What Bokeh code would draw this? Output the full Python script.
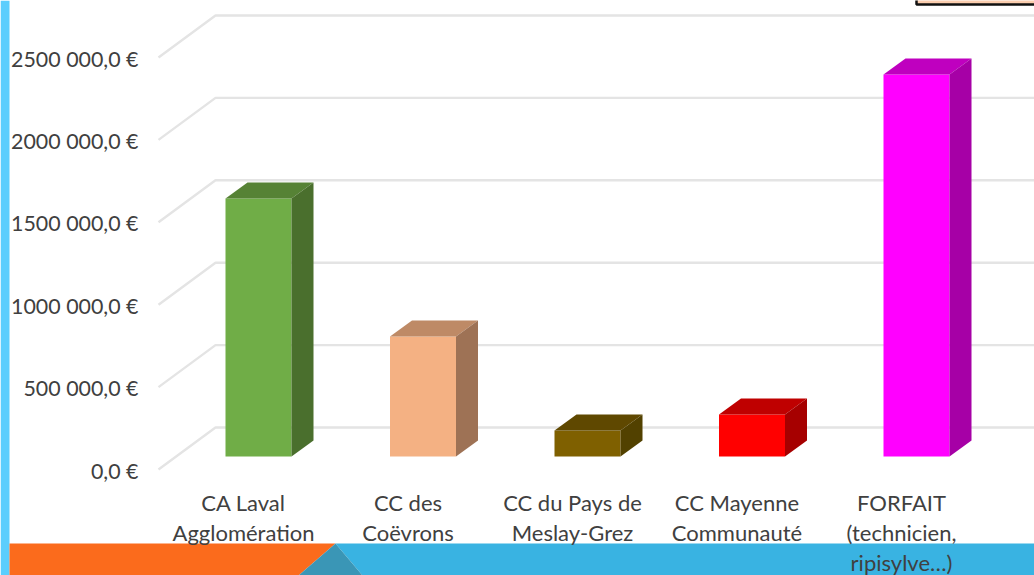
from bokeh.plotting import figure
from bokeh.models import (LinearAxis, Range1d, FixedTicker, PolyAnnotation)
from bokeh.embed import file_html
from bokeh.resources import INLINE

# ---- data ----
categories = ["CA Laval\nAgglomération", "CC des\nCoëvrons", "CC du Pays de\nMeslay-Grez",
              "CC Mayenne\nCommunauté", "FORFAIT\n(technicien,\nripisylve…)"]
values = [1565000, 728000, 158000, 255000, 2318000]
front_colors = ["#70AD47", "#F4B183", "#7F6000", "#FF0000", "#FF00FF"]
top_colors = ["#568235", "#BE8A66", "#5F4800", "#BF0000", "#BF00BF"]
side_colors = ["#4A6F2D", "#9E7255", "#524100", "#A60000", "#A600A6"]
y_ticks = [0, 500000, 1000000, 1500000, 2000000, 2500000]
y_labels = ["0,0 €", "500 000,0 €", "1000 000,0 €", "1500 000,0 €", "2000 000,0 €", "2500 000,0 €"]

# ---- layout (px in the picture) ----
W, H = 1034, 575
PX_PER_EURO = 82.4 / 500000
BASE_Y = 456            # y of value 0 on the bars' front
STEP_X = 164.5
FIRST_X = 258           # x of first bar's centre
eur = lambda px: px / PX_PER_EURO
cat = lambda px: px / STEP_X
y0 = eur(BASE_Y - H)
y1 = eur(BASE_Y)
x0 = cat(-FIRST_X)
x1 = cat(W - FIRST_X)

p = figure(width=W, height=H, output_backend="svg", toolbar_location=None,
           x_range=Range1d(x0, x1), y_range=Range1d(y0, y1),
           min_border=0, min_border_left=0, min_border_right=0, min_border_top=0, min_border_bottom=0,
           x_axis_location=None, y_axis_location=None, outline_line_color=None,
           background_fill_color="white", border_fill_color="white")
p.grid.visible = False

# ---- background shapes ----
def poly(xs, ys, color, line=None):
    p.add_layout(PolyAnnotation(xs=xs, ys=[H - y for y in ys],
                                xs_units="screen", ys_units="screen", fill_color=color, fill_alpha=1,
                                line_color=line, line_alpha=1, line_width=2.5 if line else 1, level="underlay"))
poly([0, 9, 9, 0], [0, 0, 575, 575], "#5BCEFD")
poly([9, 335, 298, 9], [543, 543, 575, 575], "#FB6B1C")
poly([335, 1034, 1034, 362], [543, 543, 575, 575], "#39B3E2")
poly([335, 362, 298], [543, 575, 575], "#3A96B6")
poly([916, 1040, 1040, 916], [-6, -6, 4, 4], "#FBCDAE", "#111111")

# ---- 3-D wall grid lines ----
wall_dy = eur(29)      # back wall sits above the bar front
floor_dy = eur(13)     # front end of the floor diagonal sits below it
gx = []
gy = []
for t in y_ticks:
    gx.append([cat(158 - FIRST_X), cat(215 - FIRST_X), x1])
    gy.append([t - floor_dy, t + wall_dy, t + wall_dy])
p.multi_line(gx, gy, line_color="#E4E4E4", line_width=2.4)

# ---- bars ----
half = cat(33)
dx = cat(22)
dy = eur(16)
idx = list(range(len(values)))
p.vbar(x=idx, top=values, bottom=0, width=2 * half, fill_color=front_colors, line_color=None)
top_x = [[i - half, i + half, i + half + dx, i - half + dx] for i in idx]
top_y = [[v, v, v + dy, v + dy] for v in values]
side_x = [[i + half, i + half + dx, i + half + dx, i + half] for i in idx]
side_y = [[0, dy, v + dy, v] for v in values]
p.patches(top_x, top_y, fill_color=top_colors, line_color=None)
p.patches(side_x, side_y, fill_color=side_colors, line_color=None)

# ---- axes, drawn over the picture ----
p.extra_y_ranges["labels"] = Range1d(eur(470 - H), eur(470))
yaxis = LinearAxis(y_range_name="labels", ticker=FixedTicker(ticks=y_ticks),
                   major_label_overrides=dict(zip(y_ticks, y_labels)),
                   fixed_location=cat(146 - FIRST_X), axis_line_color=None,
                   major_tick_line_color=None, minor_tick_line_color=None,
                   major_tick_out=0, major_tick_in=0, major_label_standoff=8,
                   major_label_text_font="Lato", major_label_text_font_size="21.4px",
                   major_label_text_color="#404040")
p.add_layout(yaxis, "left")

p.extra_x_ranges["labels"] = Range1d(cat(-243), cat(W - 243))
xaxis = LinearAxis(x_range_name="labels", ticker=FixedTicker(ticks=idx),
                   major_label_overrides=dict(zip(idx, categories)),
                   fixed_location=eur(BASE_Y - 488), axis_line_color=None,
                   major_tick_line_color=None, minor_tick_line_color=None,
                   major_tick_out=0, major_tick_in=0, major_label_standoff=0,
                   major_label_text_font="Lato", major_label_text_font_size="22px",
                   major_label_text_color="#404040", major_label_text_line_height=1.12)
p.add_layout(xaxis, "below")

html = file_html(p, INLINE)
open("out.html", "w").write(html)
